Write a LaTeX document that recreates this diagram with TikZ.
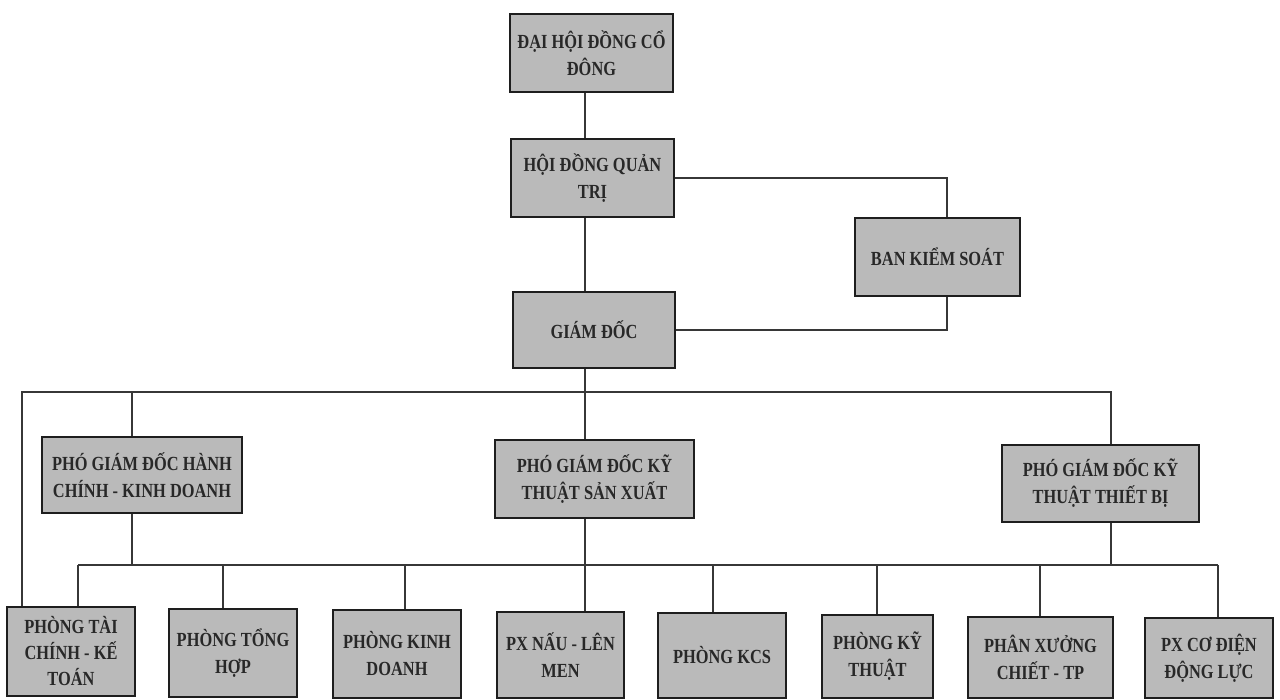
\documentclass[tikz,border=0pt]{standalone}
\usepackage{fontspec}
\setmainfont{Liberation Serif}[FakeStretch=0.82]
\definecolor{boxfill}{RGB}{186,186,186}
\definecolor{boxline}{RGB}{30,30,30}
\definecolor{connline}{RGB}{55,55,55}
\definecolor{txt}{RGB}{40,40,40}
\begin{document}
\begin{tikzpicture}[x=1pt,y=-1pt,
  box/.style={draw=boxline, line width=2.6pt, fill=boxfill, inner sep=0pt,
    align=center, text=txt, font=\fontsize{20}{27}\selectfont\bfseries},
  conn/.style={draw=connline, line width=1.3pt}]
\useasboundingbox (0,0) rectangle (1280,700);

% top level
\node[box, minimum width=163, minimum height=78] (dh) at (591.5,53) {ĐẠI HỘI ĐỒNG CỔ\\ĐÔNG};
\node[box, minimum width=163, minimum height=78] (hd) at (592.5,178) {HỘI ĐỒNG QUẢN\\TRỊ};
\node[box, minimum width=165, minimum height=78] (bks) at (937.5,257) {BAN KIỂM SOÁT};
\node[box, minimum width=162, minimum height=76] (gd) at (594,330) {GIÁM ĐỐC};

% deputies
\node[box, minimum width=200, minimum height=76] (hc) at (142,475) {PHÓ GIÁM ĐỐC HÀNH\\CHÍNH - KINH DOANH};
\node[box, minimum width=199, minimum height=78] (sx) at (594.5,479) {PHÓ GIÁM ĐỐC KỸ\\THUẬT SẢN XUẤT};
\node[box, minimum width=197, minimum height=77] (tb) at (1100.5,483.5) {PHÓ GIÁM ĐỐC KỸ\\THUẬT THIẾT BỊ};

% departments
\node[box, minimum width=128, minimum height=89, font=\fontsize{20}{26}\selectfont\bfseries] (b1) at (71,651.5) {PHÒNG TÀI\\CHÍNH - KẾ\\TOÁN};
\node[box, minimum width=128, minimum height=88] (b2) at (233,653) {PHÒNG TỔNG\\HỢP};
\node[box, minimum width=128, minimum height=88] (b3) at (397,654) {PHÒNG KINH\\DOANH};
\node[box, minimum width=127, minimum height=86] (b4) at (560.5,655) {PX NẤU - LÊN\\MEN};
\node[box, minimum width=128, minimum height=85] (b5) at (722,655.5) {PHÒNG KCS};
\node[box, minimum width=111, minimum height=83] (b6) at (877.5,656.5) {PHÒNG KỸ\\THUẬT};
\node[box, minimum width=145, minimum height=81] (b7) at (1040.5,657.5) {PHÂN XƯỞNG\\CHIẾT - TP};
\node[box, minimum width=128, minimum height=80] (b8) at (1209,658) {PX CƠ ĐIỆN\\ĐỘNG LỰC};

% helper coordinates
\coordinate (mid) at (585,392);
\coordinate (busL) at (22,392);
\coordinate (busR) at (1111,392);
\coordinate (hcx) at (132,392);
\coordinate (bkx) at (947,257);
\coordinate (lbL) at (78,565);
\coordinate (lbR) at (1218,565);
\coordinate (d1) at (78,565);
\coordinate (d2) at (223,565);
\coordinate (d3) at (405,565);
\coordinate (d5) at (713,565);
\coordinate (d6) at (877,565);
\coordinate (d7) at (1040,565);
\coordinate (d8) at (1218,565);

% main vertical chain
\draw[conn] (dh.south -| mid) -- (hd.north -| mid);
\draw[conn] (hd.south -| mid) -- (gd.north -| mid);
\draw[conn] (gd.south -| mid) -- (sx.north -| mid);
\draw[conn] (sx.south -| mid) -- (b4.north -| mid);
% control board
\draw[conn] (hd.east) -| (bks.north -| bkx);
\draw[conn] (gd.east) -| (bks.south -| bkx);
% upper bus
\draw[conn] (b1.north -| busL) |- (busR) -- (tb.north -| busR);
\draw[conn] (hcx) -- (hc.north -| hcx);
% lower bus
\draw[conn] (hc.south -| hcx) -- (hcx |- lbL);
\draw[conn] (tb.south -| busR) -- (busR |- lbR);
\draw[conn] (lbL) -- (lbR);
\draw[conn] (d1) -- (d1 |- b1.north);
\draw[conn] (d2) -- (d2 |- b2.north);
\draw[conn] (d3) -- (d3 |- b3.north);
\draw[conn] (d5) -- (d5 |- b5.north);
\draw[conn] (d6) -- (d6 |- b6.north);
\draw[conn] (d7) -- (d7 |- b7.north);
\draw[conn] (d8) -- (d8 |- b8.north);
\end{tikzpicture}
\end{document}
